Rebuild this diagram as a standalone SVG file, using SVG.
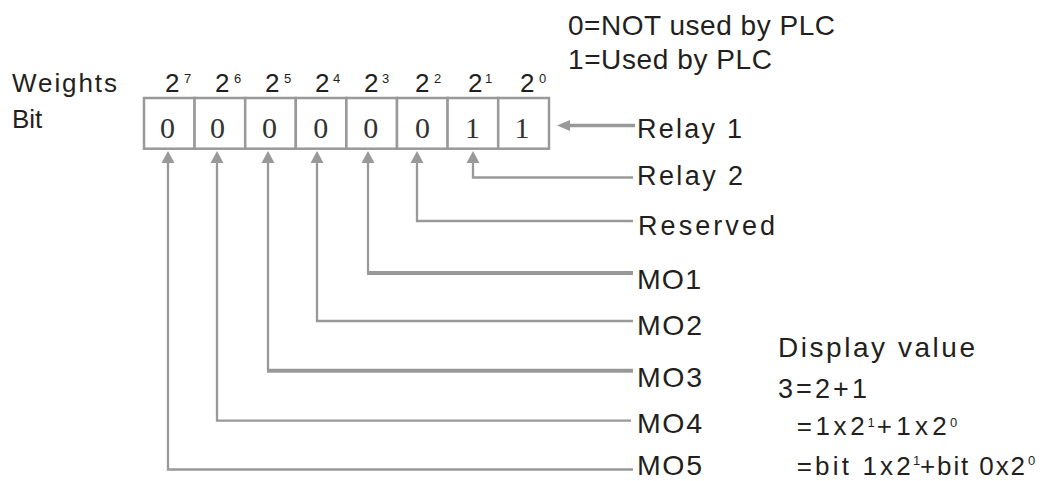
<svg xmlns="http://www.w3.org/2000/svg" width="1046" height="481" viewBox="0 0 1046 481">
<defs>
<style>
.t{font-family:"Liberation Sans",Arial,sans-serif;fill:#231f20}
.d{font-family:"Liberation Serif","Times New Roman",serif;fill:#333;font-size:30px;text-anchor:middle}
.box{fill:#fff;stroke:#999;stroke-width:2.5}
.ln{fill:none;stroke:#999;stroke-width:2.3}
.lnb{fill:none;stroke:#999;stroke-width:4}
.ah{fill:#999}
.w{font-size:26px}
.s{font-size:13px}
.s2{font-size:13px}
.lab{font-size:27px}
.mo{font-size:28.5px}
</style>
</defs>
<rect width="1046" height="481" fill="#fff"/>

<g id="legend">
<text class="t" x="568" y="34.5" font-size="28" textLength="267">0=NOT used by PLC</text>
<text class="t" x="568" y="69" font-size="28" textLength="204">1=Used by PLC</text>
</g>

<g id="row-labels">
<text class="t" x="12" y="92" font-size="26" textLength="105">Weights</text>
<text class="t" x="12" y="128" font-size="26">Bit</text>
</g>

<g id="weights">
<text class="t w" x="165" y="92">2</text><text class="t s" x="184" y="83">7</text>
<text class="t w" x="215" y="92">2</text><text class="t s" x="234" y="83">6</text>
<text class="t w" x="265" y="92">2</text><text class="t s" x="284" y="83">5</text>
<text class="t w" x="315" y="92">2</text><text class="t s" x="333" y="83">4</text>
<text class="t w" x="364" y="92">2</text><text class="t s" x="382" y="83">3</text>
<text class="t w" x="415" y="92">2</text><text class="t s" x="434" y="83">2</text>
<text class="t w" x="468" y="92">2</text><text class="t s" x="485" y="83">1</text>
<text class="t w" x="520" y="92">2</text><text class="t s" x="539" y="83">0</text>
</g>

<g id="bit7"><rect class="box" x="144" y="98" width="50.6" height="50.7"/><text class="d" x="167.5" y="138">0</text></g>
<g id="bit6"><rect class="box" x="194.6" y="98" width="50.6" height="50.7"/><text class="d" x="217.5" y="138">0</text></g>
<g id="bit5"><rect class="box" x="245.2" y="98" width="50.6" height="50.7"/><text class="d" x="269.5" y="138">0</text></g>
<g id="bit4"><rect class="box" x="295.8" y="98" width="50.6" height="50.7"/><text class="d" x="320.8" y="138">0</text></g>
<g id="bit3"><rect class="box" x="346.4" y="98" width="50.6" height="50.7"/><text class="d" x="370.8" y="138">0</text></g>
<g id="bit2"><rect class="box" x="397" y="98" width="50.6" height="50.7"/><text class="d" x="422.5" y="138">0</text></g>
<g id="bit1"><rect class="box" x="447.6" y="98" width="50.6" height="50.7"/><text class="d" x="472.5" y="138">1</text></g>
<g id="bit0"><rect class="box" x="498.2" y="98" width="50.8" height="50.7"/><text class="d" x="522" y="138">1</text></g>

<g id="connectors">
<line x1="569" y1="125.5" x2="635" y2="125.5" stroke="#999" stroke-width="3.5"/>
<polygon class="ah" points="557,125.5 570,120 570,131"/>

<path class="ln" d="M473,162 V177.5 H633"/>
<path class="ln" d="M417,162 V221 H633"/>
<path class="ln" d="M368,162 V273"/><path class="lnb" d="M367,273 H633"/>
<path class="ln" d="M317,162 V321 H633"/>
<path class="ln" d="M268,162 V370.7"/><path class="lnb" d="M267,370.7 H633"/>
<path class="ln" d="M217,162 V420.7 H631"/>
<path class="ln" d="M168,162 V469.5 H633"/>

<polygon class="ah" points="473,151 466.5,163 479.5,163"/>
<polygon class="ah" points="417,151 410.5,163 423.5,163"/>
<polygon class="ah" points="368,151 361.5,163 374.5,163"/>
<polygon class="ah" points="317,151 310.5,163 323.5,163"/>
<polygon class="ah" points="268,151 261.5,163 274.5,163"/>
<polygon class="ah" points="217,151 210.5,163 223.5,163"/>
<polygon class="ah" points="168,151 161.5,163 174.5,163"/>
</g>

<g id="relay1"><text class="t lab" x="637" y="137.5" textLength="105">Relay 1</text></g>
<g id="relay2"><text class="t lab" x="637" y="184.5" textLength="106">Relay 2</text></g>
<g id="reserved"><text class="t lab" x="638" y="235" textLength="137">Reserved</text></g>
<g id="mo1"><text class="t mo" x="637" y="289" textLength="64">MO1</text></g>
<g id="mo2"><text class="t mo" x="637" y="335" textLength="65">MO2</text></g>
<g id="mo3"><text class="t mo" x="637" y="386.7" textLength="65">MO3</text></g>
<g id="mo4"><text class="t mo" x="637" y="433.3" textLength="65">MO4</text></g>
<g id="mo5"><text class="t mo" x="637" y="474.5" textLength="65">MO5</text></g>

<g id="display-value">
<text class="t" x="778" y="356.7" font-size="28" textLength="197">Display value</text>
<text class="t" x="778" y="398.3" font-size="27" textLength="89">3=2+1</text>
<text class="t" x="796.7" y="435" font-size="26" textLength="68">=1x2</text><text class="t s2" x="867.5" y="426.5">1</text>
<text class="t" x="876.7" y="435" font-size="26" textLength="70">+1x2</text><text class="t s2" x="950" y="426.5">0</text>
<text class="t" x="796.7" y="474.5" font-size="26" textLength="114">=bit 1x2</text><text class="t s2" x="913" y="465">1</text>
<text class="t" x="920" y="474.5" font-size="26" textLength="105">+bit 0x2</text><text class="t s2" x="1028" y="465">0</text>
</g>
</svg>
